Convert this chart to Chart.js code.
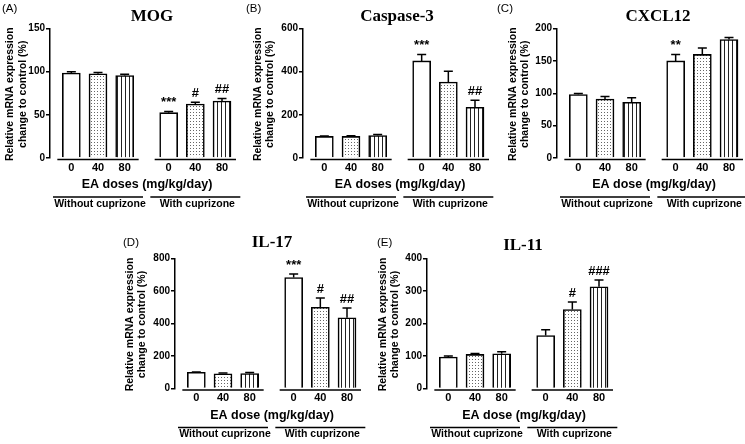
<!DOCTYPE html>
<html>
<head>
<meta charset="utf-8">
<script src="https://cdn.jsdelivr.net/npm/chart.js@4.4.0/dist/chart.umd.min.js"></script>
<style>
  html, body { margin: 0; padding: 0; background: #fff; }
  #wrap { position: relative; width: 745px; height: 444px; overflow: hidden; }
  canvas { position: absolute; }
</style>
</head>
<body>
<div id="wrap">
  <canvas id="pA"></canvas>
  <canvas id="pB"></canvas>
  <canvas id="pC"></canvas>
  <canvas id="pD"></canvas>
  <canvas id="pE"></canvas>
</div>
<script>
// shared labels
const doseLabels = ['0', '40', '80'];
const groupLabels = ['Without cuprizone', 'With cuprizone'];
const yTitleLines = ['Relative mRNA expression', 'change to control (%)'];

// (A) MOG
const mogMean = [98.5, 97.5, 95.5, 52.5, 62.5, 66];
const mogErr = [1.5, 1.5, 1.5, 1.5, 2, 3];
const mogSig = ['', '', '', '***', '#', '##'];
const mogTicks = [0, 50, 100, 150];

// (B) Caspase-3
const casMean = [100, 100, 104, 450, 352, 235];
const casErr = [2, 3, 5, 30, 50, 33];
const casSig = ['', '', '', '***', '', '##'];
const casTicks = [0, 200, 400, 600];

// (C) CXCL12
const cxMean = [98, 91, 86, 150, 160, 183];
const cxErr = [1.5, 4, 7, 10, 10, 3];
const cxSig = ['', '', '', '**', '', ''];
const cxTicks = [0, 50, 100, 150, 200];

// (D) IL-17
const il17Mean = [100, 91, 92, 683, 500, 435];
const il17Err = [2, 5, 6, 22, 57, 60];
const il17Sig = ['', '', '', '***', '#', '##'];
const il17Ticks = [0, 200, 400, 600, 800];

// (E) IL-11
const il11Mean = [97, 105, 107, 163, 243, 313];
const il11Err = [3, 3, 6, 18, 23, 21];
const il11Sig = ['', '', '', '', '#', '###'];
const il11Ticks = [0, 100, 200, 300, 400];

const SANS = "'Liberation Sans', Arial, sans-serif";
const SERIF = "'Liberation Serif', 'Times New Roman', serif";
const GROUP_GAP = 0.65;
const xPos = i => Math.floor(i / 3) * (3 + GROUP_GAP) + i % 3;

function pattern(kind) {
  const c = document.createElement('canvas');
  const n = kind === 'dots' ? 3 : 4;
  c.width = n; c.height = n;
  const g = c.getContext('2d');
  g.fillStyle = '#fff';
  g.fillRect(0, 0, n, n);
  if (kind === 'dots') {
    g.fillStyle = '#666';
    g.fillRect(1, 1, 1, 1);
  } else {
    g.fillStyle = '#222';
    g.fillRect(1, 0, 1, n);
  }
  return g.createPattern(c, 'repeat');
}
const fills = ['#fff', pattern('dots'), pattern('lines')];

const panels = [
  { id: 'pA', letter: '(A)', title: 'MOG', mean: mogMean, err: mogErr, sig: mogSig, yTicks: mogTicks,
    xTitle: 'EA doses (mg/kg/day)', box: [0, 0, 245, 215], area: [50, 28.5, 238, 158],
    titleX: 152, titleY: 17, letterX: 2, letterY: 9, yTitleX: [10, 23] },
  { id: 'pB', letter: '(B)', title: 'Caspase-3', mean: casMean, err: casErr, sig: casSig, yTicks: casTicks,
    xTitle: 'EA doses (mg/kg/day)', box: [245, 0, 250, 215], area: [303, 28.5, 491, 158],
    titleX: 397, titleY: 17, letterX: 246, letterY: 9, yTitleX: [258, 270] },
  { id: 'pC', letter: '(C)', title: 'CXCL12', mean: cxMean, err: cxErr, sig: cxSig, yTicks: cxTicks,
    xTitle: 'EA dose (mg/kg/day)', box: [495, 0, 250, 215], area: [557, 28.5, 745, 158],
    titleX: 658, titleY: 17, letterX: 497, letterY: 9, yTitleX: [513, 525] },
  { id: 'pD', letter: '(D)', title: 'IL-17', mean: il17Mean, err: il17Err, sig: il17Sig, yTicks: il17Ticks,
    xTitle: 'EA dose (mg/kg/day)', box: [100, 220, 272, 224], area: [175, 258.5, 363, 388.5],
    titleX: 272, titleY: 243, letterX: 123, letterY: 243, yTitleX: [130, 142] },
  { id: 'pE', letter: '(E)', title: 'IL-11', mean: il11Mean, err: il11Err, sig: il11Sig, yTicks: il11Ticks,
    xTitle: 'EA dose (mg/kg/day)', box: [372, 220, 373, 224], area: [427, 258.5, 615, 388.5],
    titleX: 523, titleY: 246, letterX: 377, letterY: 243, yTitleX: [383, 395] }
];

function extras(p) {
  return {
    id: 'extras',
    afterDraw(chart) {
      const ctx = chart.ctx;
      const bl = p.box[0], bt = p.box[1];
      const area = chart.chartArea;
      const ys = chart.scales.y;
      const bars = chart.getDatasetMeta(0).data;
      ctx.save();
      ctx.strokeStyle = '#000';
      ctx.fillStyle = '#000';
      ctx.lineWidth = 1.5;

      // error bars + significance marks
      bars.forEach((b, i) => {
        const top = ys.getPixelForValue(p.mean[i] + p.err[i]);
        ctx.beginPath();
        ctx.moveTo(b.x, b.y);
        ctx.lineTo(b.x, top);
        ctx.moveTo(b.x - 4.5, top);
        ctx.lineTo(b.x + 4.5, top);
        ctx.stroke();
        if (p.sig[i]) {
          ctx.font = 'bold 13px ' + SANS;
          ctx.textAlign = 'center';
          ctx.textBaseline = 'alphabetic';
          ctx.fillText(p.sig[i], b.x, top - 5);
        }
      });

      // broken x axis + group lines
      for (let g = 0; g < 2; g++) {
        const first = bars[g * 3], mid = bars[g * 3 + 1], last = bars[g * 3 + 2];
        ctx.beginPath();
        ctx.moveTo(first.x - first.width / 2 - 5, area.bottom + 1.5);
        ctx.lineTo(last.x + last.width / 2 + 5, area.bottom + 1.5);
        ctx.moveTo(mid.x - 45, area.bottom + 39);
        ctx.lineTo(mid.x + 45, area.bottom + 39);
        ctx.stroke();
        ctx.font = 'bold 10.5px ' + SANS;
        ctx.textAlign = 'center';
        ctx.textBaseline = 'middle';
        ctx.fillText(groupLabels[g], mid.x + 2, area.bottom + 46);
      }

      // x title
      ctx.font = 'bold 12.5px ' + SANS;
      ctx.fillText(p.xTitle, (area.left + area.right) / 2 + 3, area.bottom + 27);

      // panel title
      ctx.font = 'bold 17px ' + SERIF;
      ctx.fillText(p.title, p.titleX - bl, p.titleY - bt);

      // panel letter
      ctx.font = '11.5px ' + SANS;
      ctx.textAlign = 'left';
      ctx.fillText(p.letter, p.letterX - bl, p.letterY - bt);

      // y title
      ctx.font = 'bold 10.5px ' + SANS;
      ctx.textAlign = 'center';
      const cy = (area.top + area.bottom) / 2 + 1;
      yTitleLines.forEach((line, j) => {
        ctx.save();
        ctx.translate(p.yTitleX[j] - bl, cy);
        ctx.rotate(-Math.PI / 2);
        ctx.fillText(line, 0, 0);
        ctx.restore();
      });
      ctx.restore();
    }
  };
}

function makeChart(p) {
  const cv = document.getElementById(p.id);
  const [bl, bt, bw, bh] = p.box;
  const [al, at, ar, ab] = p.area;
  cv.width = bw;
  cv.height = bh;
  cv.style.left = bl + 'px';
  cv.style.top = bt + 'px';

  new Chart(cv, {
    type: 'bar',
    data: {
      datasets: [{
        data: p.mean.map((v, i) => ({ x: xPos(i), y: v })),
        backgroundColor: p.mean.map((v, i) => fills[i % 3]),
        borderColor: '#000',
        borderWidth: 1.6,
        barThickness: 18
      }]
    },
    options: {
      responsive: false,
      animation: false,
      layout: { padding: { left: 0, top: at - bt, right: bl + bw - ar, bottom: 0 } },
      plugins: { legend: { display: false }, tooltip: { enabled: false } },
      scales: {
        x: {
          type: 'linear',
          offset: false,
          min: -0.8,
          max: 6.25,
          afterFit: s => { s.height = bt + bh - ab; },
          afterBuildTicks: s => { s.ticks = p.mean.map((v, i) => ({ value: xPos(i) })); },
          grid: { display: false, drawTicks: false, offset: false },
          border: { display: false },
          ticks: {
            padding: 3,
            autoSkip: false,
            maxRotation: 0,
            color: '#000',
            font: { family: SANS, size: 11, weight: 'bold' },
            callback: (v, i) => doseLabels[i % 3]
          }
        },
        y: {
          min: 0,
          max: p.yTicks[p.yTicks.length - 1],
          afterFit: s => { s.width = al - bl; },
          afterBuildTicks: s => { s.ticks = p.yTicks.map(v => ({ value: v })); },
          grid: { drawOnChartArea: false, color: '#000', lineWidth: 1.5, tickLength: 4 },
          border: { color: '#000', width: 1.5 },
          ticks: { padding: 1, color: '#000', font: { family: SANS, size: 10, weight: 'bold' } }
        }
      }
    },
    plugins: [extras(p)]
  });
}

panels.forEach(makeChart);
</script>
</body>
</html>
